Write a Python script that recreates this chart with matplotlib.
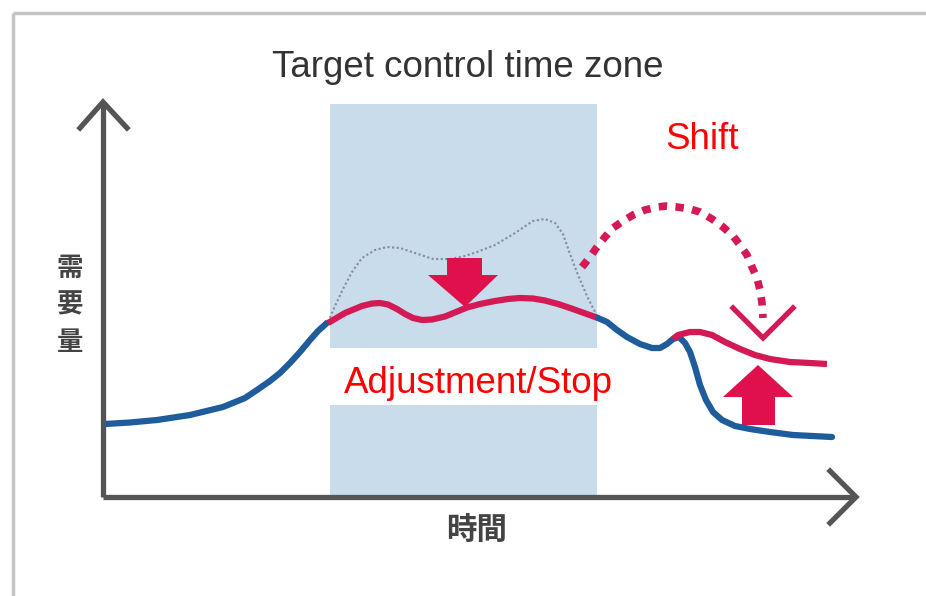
import matplotlib.pyplot as plt
from matplotlib.patches import Rectangle, Polygon

# --- diagram data (pixel-space coordinates, y grows downward) ---
base_x = [105, 130, 157, 190, 223, 245, 257, 270, 280, 290, 300, 310, 318, 328]
base_y = [424, 422.5, 420, 415, 407, 398, 390, 381, 373, 363, 352, 340, 331, 322]

original_x = [328, 335, 343, 352, 362, 375, 387, 400, 415, 433, 450, 465, 477, 495, 515, 533,
              545, 555, 563, 570, 578, 587, 598]
original_y = [322, 306, 289, 272, 258, 250, 247, 248, 253, 259, 259, 256, 252, 245, 233, 221,
              219, 223, 234, 254, 275, 296, 318]

reduced_x = [328, 345, 362, 372, 380, 388, 397, 405, 413, 422, 432, 445, 456, 467, 480, 495,
             508, 520, 533, 545, 558, 570, 584, 598]
reduced_y = [323, 313, 306, 303.5, 303, 304.5, 309, 314, 318, 320, 319.5, 316.5, 312, 307.5, 304, 301,
             299, 298, 298.5, 300.5, 304, 308, 313, 318]

after_x = [598, 607, 617, 627, 640, 652, 660, 667, 673, 679, 685, 690, 695, 700, 706, 713,
           722, 735, 750, 770, 793, 832]
after_y = [318, 322, 330, 337, 344, 348, 348, 344, 339, 337, 343, 352, 367, 385, 400, 412,
           420, 426, 429, 432, 435, 437]

shifted_x = [673, 678, 690, 700, 712, 725, 740, 755, 770, 790, 810, 827]
shifted_y = [339, 335, 332, 332, 335, 342, 349, 355, 359, 362, 363, 364]

arc_x = [582, 590, 597, 605, 613, 623, 633, 645, 657, 667, 677, 690, 700, 712, 723, 733, 740,
         747, 752, 757, 760, 762, 763]
arc_y = [267, 257, 247, 237, 228, 221, 215, 210, 207, 206, 207, 209, 212, 219, 227, 236, 245,
         255, 267, 278, 290, 303, 318]

zone_x = (330, 597)
zone_top = 104
axis_origin = (103, 497)

title = "Target control time zone"
shift_label = "Shift"
adjust_label = "Adjustment/Stop"
y_label = "需要量"
x_label = "時間"

BLUE = "#1f5c9c"
RED = "#d41a55"
ARROW_RED = "#e0104c"
GREY = "#555555"
CJK = ["Noto Sans CJK JP", "DejaVu Sans"]

fig = plt.figure(figsize=(9.26, 5.96), dpi=100)
ax = fig.add_axes([0, 0, 1, 1])
ax.set_xlim(0, 926)
ax.set_ylim(596, 0)
ax.axis("off")

# picture frame
ax.plot([13, 926], [13, 13], color="#c4c4c4", lw=2.5, solid_capstyle="butt")
ax.plot([13, 13], [13, 596], color="#c4c4c4", lw=2.5, solid_capstyle="butt")

# target zone
ax.add_patch(Rectangle((zone_x[0], zone_top), zone_x[1] - zone_x[0], axis_origin[1] - zone_top,
                       facecolor="#c9dceb", edgecolor="none", zorder=1))
# white label box
ax.add_patch(Rectangle((308, 348), 305, 57, facecolor="white", edgecolor="none", zorder=2))

# axes arrows
ox, oy = axis_origin
ax.plot([ox, ox], [oy, 102], color=GREY, lw=3.8, solid_capstyle="butt", zorder=3)
ax.plot([ox, 855], [oy, oy], color=GREY, lw=3.8, solid_capstyle="butt", zorder=3)
ax.plot([80, ox, 127], [128, 102, 128], color=GREY, lw=3.8, solid_joinstyle="miter", zorder=3)
ax.plot([830, 856, 830], [471, oy, 523], color=GREY, lw=3.8, solid_joinstyle="miter", zorder=3)

# curves
ax.plot(original_x, original_y, color="#7f8c99", lw=1.5, ls=(0, (1, 1.2)), zorder=4)
ax.plot(base_x, base_y, color=BLUE, lw=4.5, solid_capstyle="butt", solid_joinstyle="round", zorder=5)
ax.plot(reduced_x, reduced_y, color=RED, lw=4.5, solid_capstyle="butt", solid_joinstyle="round", zorder=5)
ax.plot(after_x, after_y, color=BLUE, lw=4.5, solid_capstyle="round", solid_joinstyle="round", zorder=5)
ax.plot(shifted_x, shifted_y, color=RED, lw=4.5, solid_capstyle="butt", solid_joinstyle="round", zorder=5)

# shift arc with chevron
ax.plot(arc_x, arc_y, color=RED, lw=5.5, ls=(0, (1.1, 1.1)), zorder=5)
ax.plot([733, 763, 793], [308, 338, 308], color=RED, lw=3.8, solid_joinstyle="miter", zorder=5)

# down arrow (reduction)
ax.add_patch(Polygon([(447, 258), (482, 258), (482, 275), (498, 275), (465, 307),
                      (428, 275), (447, 275)], closed=True, facecolor=ARROW_RED, edgecolor="none", zorder=6))
# up arrow (raise)
ax.add_patch(Polygon([(742, 425), (775, 425), (775, 397), (793, 397), (758, 365),
                      (723, 397), (742, 397)], closed=True, facecolor=ARROW_RED, edgecolor="none", zorder=4))

# labels
ax.text(468, 77, title, fontsize=26.5, color="#333333", family="Liberation Sans",
        ha="center", va="baseline", zorder=8)
ax.text(702, 149, shift_label, fontsize=26.5, color="#ff0000", family="Liberation Sans",
        ha="center", va="baseline", zorder=8)
ax.text(478, 393, adjust_label, fontsize=26.5, color="#ff0000", family="Liberation Sans",
        ha="center", va="baseline", zorder=8)

for i, ch in enumerate(y_label):
    ax.text(70, 268 + i * 37, ch, fontsize=19, color="#444444", fontweight="bold",
            family=CJK, ha="center", va="center")
ax.text(477, 531, x_label, fontsize=22, color="#444444", fontweight="bold",
        family=CJK, ha="center", va="center")

fig.savefig("out.png", dpi=100, facecolor="white")
